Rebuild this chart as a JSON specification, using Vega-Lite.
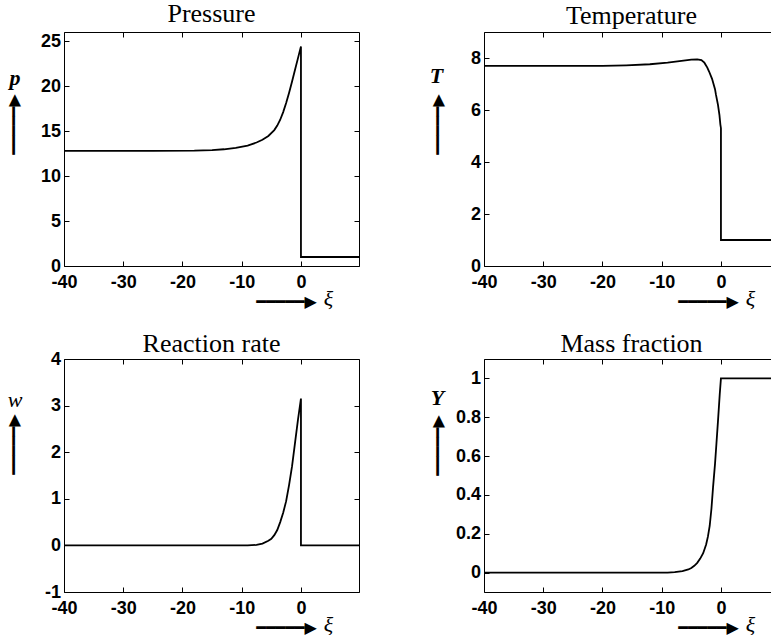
{
  "$schema": "https://vega.github.io/schema/vega-lite/v6.json",
  "background": "white",
  "padding": {"left": 5, "top": 0, "right": 0, "bottom": 0},
  "datasets": {
    "pressure": [
      {"xi": -40, "p": 12.8}, {"xi": -25, "p": 12.8}, {"xi": -18, "p": 12.82}, {"xi": -15, "p": 12.88},
      {"xi": -13, "p": 12.97}, {"xi": -11, "p": 13.12}, {"xi": -9, "p": 13.38}, {"xi": -7.5, "p": 13.72},
      {"xi": -6.5, "p": 14.02}, {"xi": -5.5, "p": 14.45}, {"xi": -4.5, "p": 15.1}, {"xi": -4, "p": 15.6},
      {"xi": -3.5, "p": 16.25}, {"xi": -3, "p": 17.1}, {"xi": -2.5, "p": 18.1}, {"xi": -2, "p": 19.25},
      {"xi": -1.5, "p": 20.5}, {"xi": -1, "p": 21.8}, {"xi": -0.5, "p": 23.1}, {"xi": 0, "p": 24.4},
      {"xi": 0, "p": 1.0}, {"xi": 9.8, "p": 1.0}
    ],
    "temperature": [
      {"xi": -40, "T": 7.7}, {"xi": -20, "T": 7.7}, {"xi": -16, "T": 7.72}, {"xi": -12, "T": 7.76},
      {"xi": -9, "T": 7.82}, {"xi": -7, "T": 7.88}, {"xi": -5, "T": 7.94}, {"xi": -4, "T": 7.95},
      {"xi": -3.3, "T": 7.92}, {"xi": -2.8, "T": 7.82}, {"xi": -2.3, "T": 7.63}, {"xi": -2, "T": 7.48},
      {"xi": -1.5, "T": 7.2}, {"xi": -1, "T": 6.8}, {"xi": -0.85, "T": 6.6}, {"xi": -0.5, "T": 6.2},
      {"xi": -0.25, "T": 5.8}, {"xi": -0.1, "T": 5.45}, {"xi": 0, "T": 5.3}, {"xi": 0, "T": 1.0},
      {"xi": 9.8, "T": 1.0}
    ],
    "rate": [
      {"xi": -40, "w": 0}, {"xi": -9, "w": 0}, {"xi": -7.5, "w": 0.01}, {"xi": -6.5, "w": 0.04},
      {"xi": -5.5, "w": 0.1}, {"xi": -5, "w": 0.14}, {"xi": -4.5, "w": 0.22}, {"xi": -4, "w": 0.33},
      {"xi": -3.5, "w": 0.5}, {"xi": -3, "w": 0.7}, {"xi": -2.5, "w": 0.95}, {"xi": -2, "w": 1.3},
      {"xi": -1.5, "w": 1.7}, {"xi": -1, "w": 2.2}, {"xi": -0.5, "w": 2.7}, {"xi": 0, "w": 3.15},
      {"xi": 0, "w": 0}, {"xi": 9.8, "w": 0}
    ],
    "mass": [
      {"xi": -40, "Y": 0}, {"xi": -9, "Y": 0}, {"xi": -7.8, "Y": 0.002}, {"xi": -6.5, "Y": 0.008},
      {"xi": -5.5, "Y": 0.016}, {"xi": -5, "Y": 0.024}, {"xi": -4.5, "Y": 0.035}, {"xi": -4, "Y": 0.05},
      {"xi": -3.5, "Y": 0.072}, {"xi": -3, "Y": 0.1}, {"xi": -2.5, "Y": 0.145}, {"xi": -2.2, "Y": 0.185},
      {"xi": -1.9, "Y": 0.24}, {"xi": -1.6, "Y": 0.33}, {"xi": -1.33, "Y": 0.44}, {"xi": -1.0, "Y": 0.56},
      {"xi": -0.76, "Y": 0.665}, {"xi": -0.5, "Y": 0.78}, {"xi": -0.2, "Y": 0.92}, {"xi": 0, "Y": 1.0},
      {"xi": 9.8, "Y": 1.0}
    ]
  },
  "config": {
    "view": {"stroke": null},
    "axis": {
      "grid": false, "domainColor": "black", "domainWidth": 1, "tickColor": "black", "tickWidth": 1, "tickSize": -5,
      "labelFont": "Liberation Sans", "labelFontWeight": "bold", "labelFontSize": 18, "labelColor": "black",
      "labelFlush": false, "labelOverlap": false, "labelBound": false, "labelExpr": "'' + datum.value",
      "titleColor": "black", "titleFont": "Liberation Serif", "titleFontStyle": "italic", "titleFontWeight": "bold",
      "titleFontSize": 22, "titleAngle": 0, "titleAlign": "center", "titleBaseline": "alphabetic"
    },
    "axisLeft": {"labelPadding": 8.5},
    "axisBottom": {"labelPadding": 12.5},
    "axisTop": {"labels": false, "titleFont": "DejaVu Sans", "titleFontStyle": "normal", "titleFontWeight": "normal", "titleFontSize": 16, "titleBaseline": "middle"},
    "axisRight": {"labels": false, "titleFont": "DejaVu Sans", "titleFontStyle": "normal", "titleFontWeight": "normal", "titleFontSize": 16, "titleBaseline": "middle", "titleAngle": 270},
    "title": {"font": "Liberation Serif", "fontSize": 26, "fontWeight": "normal", "color": "black", "anchor": "middle", "frame": "group", "baseline": "alphabetic"}
  },
  "bounds": "flush",
  "columns": 2,
  "spacing": {"row": 93, "column": 125},
  "concat": [
    {
      "data": {"name": "pressure"},
      "width": 295, "height": 234,
      "title": {"text": "Pressure", "offset": 5},
      "layer": [
        {"mark": {"type": "line", "color": "black", "strokeWidth": 1.8},
         "encoding": {
           "x": {"field": "xi", "type": "quantitative", "scale": {"domain": [-40, 9.8], "nice": false, "zero": false},
                 "axis": {"orient": "bottom", "values": [-40, -30, -20, -10, 0], "title": "ξ", "titleX": 264, "titleY": 39, "titleFontWeight": "normal"}},
           "y": {"field": "p", "type": "quantitative", "scale": {"domain": [0, 26], "nice": false, "zero": false},
                 "axis": {"orient": "left", "values": [0, 5, 10, 15, 20, 25], "title": "p", "titleX": -49.5, "titleY": 52}},
           "order": {"value": null}
         }},
        {"mark": {"type": "line", "opacity": 0},
         "encoding": {
           "x": {"field": "xi", "type": "quantitative", "scale": {"domain": [-40, 9.8], "nice": false, "zero": false},
                 "axis": {"orient": "top", "values": [-40, -30, -20, -10, 0], "title": "━━━━━▶", "titleX": 222, "titleY": 269}},
           "y": {"field": "p", "type": "quantitative", "scale": {"domain": [0, 26], "nice": false, "zero": false},
                 "axis": {"orient": "right", "values": [0, 5, 10, 15, 20, 25], "title": "━━━━━▶", "titleX": -346, "titleY": 92}},
           "order": {"value": null}
         }}
      ],
      "resolve": {"axis": {"x": "independent", "y": "independent"}}
    },
    {
      "data": {"name": "temperature"},
      "width": 288, "height": 234,
      "title": {"text": "Temperature", "offset": 3, "dx": 3.5},
      "layer": [
        {"mark": {"type": "line", "color": "black", "strokeWidth": 1.8},
         "encoding": {
           "x": {"field": "xi", "type": "quantitative", "scale": {"domain": [-40, 8.62], "nice": false, "zero": false},
                 "axis": {"orient": "bottom", "values": [-40, -30, -20, -10, 0], "title": "ξ", "titleX": 266, "titleY": 39, "titleFontWeight": "normal"}},
           "y": {"field": "T", "type": "quantitative", "scale": {"domain": [0, 9], "nice": false, "zero": false},
                 "axis": {"orient": "left", "values": [0, 2, 4, 6, 8], "title": "T", "titleX": -48, "titleY": 50}},
           "order": {"value": null}
         }},
        {"mark": {"type": "line", "opacity": 0},
         "encoding": {
           "x": {"field": "xi", "type": "quantitative", "scale": {"domain": [-40, 8.62], "nice": false, "zero": false},
                 "axis": {"orient": "top", "values": [-40, -30, -20, -10, 0], "title": "━━━━━▶", "titleX": 224, "titleY": 269}},
           "y": {"field": "T", "type": "quantitative", "scale": {"domain": [0, 9], "nice": false, "zero": false},
                 "axis": {"orient": "right", "domain": false, "ticks": false, "title": "━━━━━▶", "titleX": -335, "titleY": 92}},
           "order": {"value": null}
         }}
      ],
      "resolve": {"axis": {"x": "independent", "y": "independent"}}
    },
    {
      "data": {"name": "rate"},
      "width": 295, "height": 233,
      "title": {"text": "Reaction rate", "offset": -7},
      "layer": [
        {"mark": {"type": "line", "color": "black", "strokeWidth": 1.8},
         "encoding": {
           "x": {"field": "xi", "type": "quantitative", "scale": {"domain": [-40, 9.8], "nice": false, "zero": false},
                 "axis": {"orient": "bottom", "values": [-40, -30, -20, -10, 0], "title": "ξ", "titleX": 264, "titleY": 39, "titleFontWeight": "normal"}},
           "y": {"field": "w", "type": "quantitative", "scale": {"domain": [-1, 4], "nice": false, "zero": false},
                 "axis": {"orient": "left", "values": [-1, 0, 1, 2, 3, 4], "title": "w", "titleX": -49.5, "titleY": 47, "titleFontWeight": "normal"}},
           "order": {"value": null}
         }},
        {"mark": {"type": "line", "opacity": 0},
         "encoding": {
           "x": {"field": "xi", "type": "quantitative", "scale": {"domain": [-40, 9.8], "nice": false, "zero": false},
                 "axis": {"orient": "top", "values": [-40, -30, -20, -10, 0], "title": "━━━━━▶", "titleX": 222, "titleY": 268}},
           "y": {"field": "w", "type": "quantitative", "scale": {"domain": [-1, 4], "nice": false, "zero": false},
                 "axis": {"orient": "right", "values": [-1, 0, 1, 2, 3, 4], "title": "━━━━━▶", "titleX": -346, "titleY": 85}},
           "order": {"value": null}
         }}
      ],
      "resolve": {"axis": {"x": "independent", "y": "independent"}}
    },
    {
      "data": {"name": "mass"},
      "width": 288, "height": 233,
      "title": {"text": "Mass fraction", "offset": 2, "dx": 3.5},
      "layer": [
        {"mark": {"type": "line", "color": "black", "strokeWidth": 1.8},
         "encoding": {
           "x": {"field": "xi", "type": "quantitative", "scale": {"domain": [-40, 8.62], "nice": false, "zero": false},
                 "axis": {"orient": "bottom", "values": [-40, -30, -20, -10, 0], "title": "ξ", "titleX": 266, "titleY": 39, "titleFontWeight": "normal"}},
           "y": {"field": "Y", "type": "quantitative", "scale": {"domain": [-0.1, 1.1], "nice": false, "zero": false},
                 "axis": {"orient": "left", "values": [0, 0.2, 0.4, 0.6, 0.8, 1], "title": "Y", "titleX": -47, "titleY": 45}},
           "order": {"value": null}
         }},
        {"mark": {"type": "line", "opacity": 0},
         "encoding": {
           "x": {"field": "xi", "type": "quantitative", "scale": {"domain": [-40, 8.62], "nice": false, "zero": false},
                 "axis": {"orient": "top", "values": [-40, -30, -20, -10, 0], "title": "━━━━━▶", "titleX": 224, "titleY": 268}},
           "y": {"field": "Y", "type": "quantitative", "scale": {"domain": [-0.1, 1.1], "nice": false, "zero": false},
                 "axis": {"orient": "right", "domain": false, "ticks": false, "title": "━━━━━▶", "titleX": -335, "titleY": 86}},
           "order": {"value": null}
         }}
      ],
      "resolve": {"axis": {"x": "independent", "y": "independent"}}
    }
  ]
}
